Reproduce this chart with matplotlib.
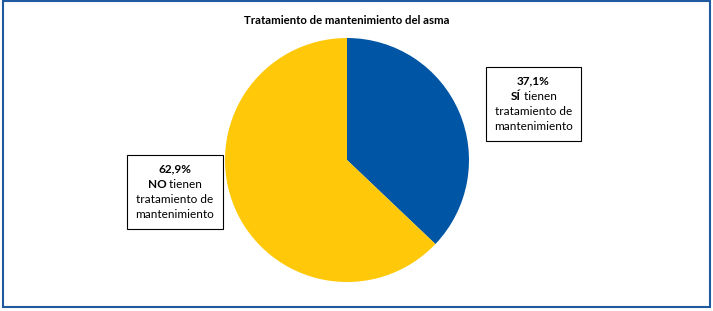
import matplotlib.pyplot as plt
from matplotlib.offsetbox import TextArea, HPacker, VPacker, AnnotationBbox
from matplotlib.patches import Rectangle

plt.rcParams['font.family'] = ['Lato', 'DejaVu Sans']

# data
labels = ['SÍ', 'NO']
values = [37.1, 62.9]
colors = ['#0055a5', '#ffc808']
title = 'Tratamiento de mantenimiento del asma'

fig = plt.figure(figsize=(7.13, 3.11), dpi=100)

# blue frame around the whole chart
fig.patches.append(Rectangle((3 / 713, 4 / 311), 707 / 713, 306 / 311, transform=fig.transFigure,
                             fill=False, edgecolor='#1f5aa0', linewidth=1.5))

fig.text(347 / 713, 1 - 20 / 311, title, ha='center', va='center', fontsize=8.2, fontweight='bold')

# pie axes: centre (347,160), radius 122 px
cx, cy, r = 347, 160, 122
ax = fig.add_axes([(cx - r) / 713, 1 - (cy + r) / 311, 2 * r / 713, 2 * r / 311])
ax.pie(values, colors=colors, startangle=90, counterclock=False, radius=1,
       wedgeprops=dict(linewidth=0))
ax.set_xlim(-1, 1)
ax.set_ylim(-1, 1)
ax.set_aspect('auto')
ax.axis('off')


def label_box(pct, word, xy):
    fs = 8.5
    bold = dict(fontsize=fs, fontweight='bold', color='black')
    norm = dict(fontsize=fs, color='black')
    rows = [
        TextArea(f'{pct:.1f}%'.replace('.', ','), textprops=bold),
        HPacker(children=[TextArea(word, textprops=bold), TextArea(' tienen', textprops=norm)],
                pad=0, sep=0, align='baseline'),
        TextArea('tratamiento de', textprops=norm),
        TextArea('mantenimiento', textprops=norm),
    ]
    box = VPacker(children=rows, pad=0, sep=3, align='center')
    ab = AnnotationBbox(box, xy, xycoords='figure fraction', frameon=True, pad=0.6,
                        bboxprops=dict(edgecolor='black', facecolor='white', linewidth=0.8))
    fig.add_artist(ab)


label_box(values[0], labels[0], (533.5 / 713, 1 - 104 / 311))
label_box(values[1], labels[1], (175 / 713, 1 - 192 / 311))

fig.savefig('out.png', dpi=100)
